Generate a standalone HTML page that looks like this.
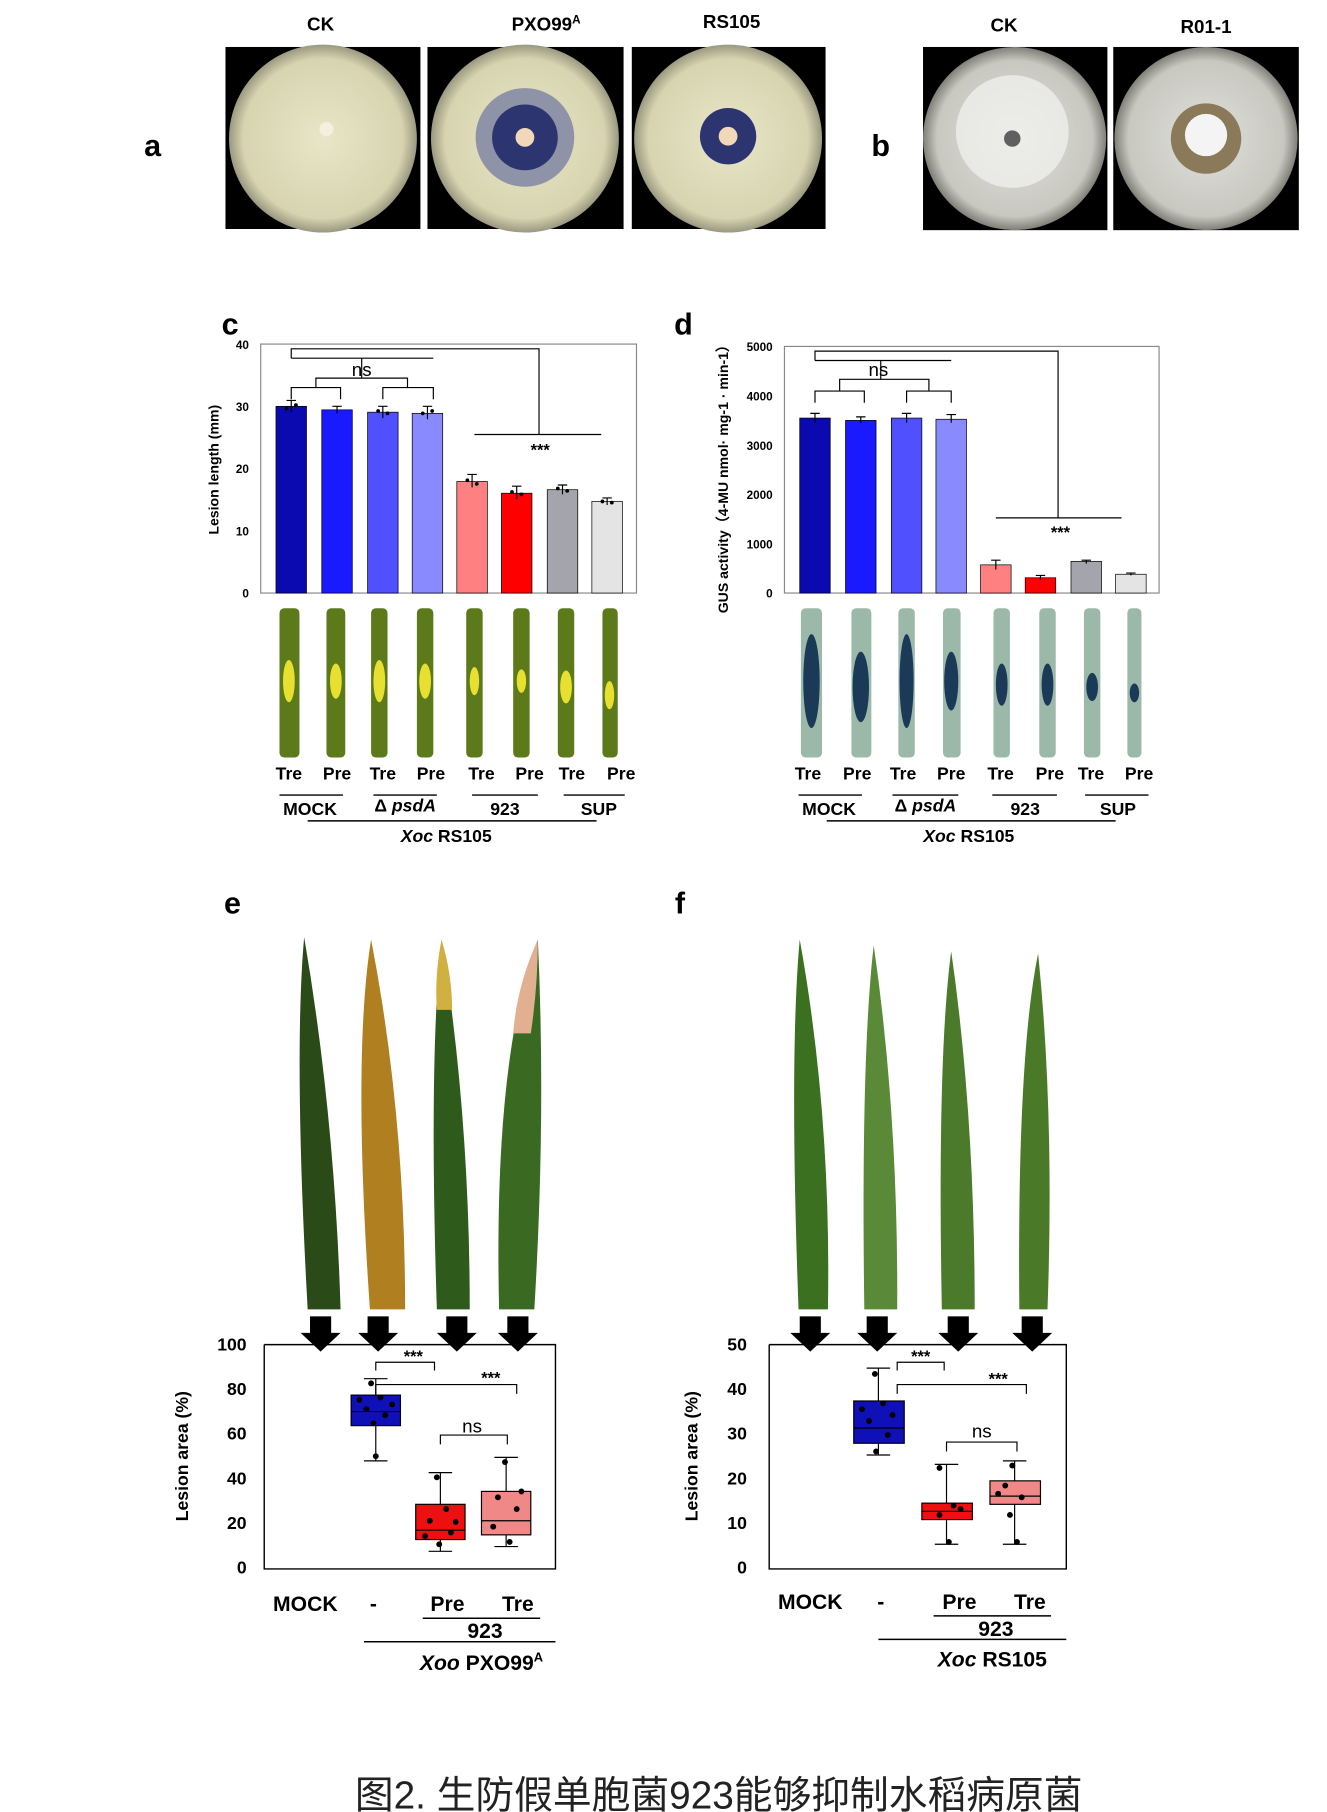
<!DOCTYPE html>
<html><head><meta charset="utf-8"><style>
html,body{margin:0;padding:0;background:#fff;}
svg{display:block;}
text{font-family:"Liberation Sans",Arial,sans-serif;}
</style></head><body>
<svg width="1327" height="1812" viewBox="0 0 1130 1543" preserveAspectRatio="none" xmlns="http://www.w3.org/2000/svg">
<defs>
<radialGradient id="pl" cx="50%" cy="50%" r="50%"><stop offset="0" stop-color="#e8e6c8"/><stop offset="0.85" stop-color="#d8d4b0"/><stop offset="1" stop-color="#9a9880"/></radialGradient>
<radialGradient id="pl2" cx="50%" cy="50%" r="50%"><stop offset="0" stop-color="#e0e0dc"/><stop offset="0.85" stop-color="#c8c8c0"/><stop offset="1" stop-color="#808078"/></radialGradient>
</defs>
<text x="130" y="133" font-size="26" font-weight="bold" text-anchor="middle">a</text>
<text x="750" y="133" font-size="26" font-weight="bold" text-anchor="middle">b</text>
<g font-size="16" font-weight="bold" text-anchor="middle">
<text x="273" y="26">CK</text><text x="465" y="26">PXO99<tspan font-size="10" dy="-6">A</tspan></text><text x="623" y="24">RS105</text>
<text x="855" y="27">CK</text><text x="1027" y="28">R01-1</text></g>
<rect x="192" y="40" width="166" height="155" fill="#000"/>
<circle cx="275" cy="118" r="80" fill="url(#pl)"/><circle cx="278" cy="110" r="6" fill="#f4f0e0"/>
<rect x="364" y="40" width="167" height="155" fill="#000"/>
<circle cx="447" cy="118" r="80" fill="url(#pl)"/><circle cx="447" cy="117" r="42" fill="#8e93a8"/><circle cx="447" cy="117" r="28" fill="#2c3570"/><circle cx="447" cy="117" r="8" fill="#f0d8b8"/>
<rect x="538" y="40" width="165" height="155" fill="#000"/>
<circle cx="620" cy="118" r="80" fill="url(#pl)"/><circle cx="620" cy="116" r="24" fill="#2c3570"/><circle cx="620" cy="116" r="8" fill="#f0d8b8"/>
<rect x="786" y="40" width="157" height="156" fill="#000"/>
<circle cx="864" cy="118" r="78" fill="url(#pl2)"/><circle cx="862" cy="112" r="48" fill="#f0f0ee" opacity="0.75"/><circle cx="862" cy="118" r="7" fill="#606060"/>
<rect x="948" y="40" width="158" height="156" fill="#000"/>
<circle cx="1027" cy="118" r="78" fill="url(#pl2)"/><circle cx="1027" cy="118" r="30" fill="#8a7a5a"/><circle cx="1027" cy="115" r="18" fill="#f4f4f4"/>

<!-- c -->
<text x="196" y="285" font-size="26" font-weight="bold" text-anchor="middle">c</text>
<rect x="222" y="293" width="320" height="212" fill="none" stroke="#888" stroke-width="1"/>
<g font-size="10" font-weight="bold" text-anchor="end">
<text x="212" y="297">40</text><text x="212" y="350">30</text><text x="212" y="403">20</text><text x="212" y="456">10</text><text x="212" y="509">0</text></g>
<text transform="translate(186,400) rotate(-90)" font-size="12" font-weight="bold" text-anchor="middle">Lesion length (mm)</text>
<g stroke="#000" stroke-width="0.6">
<rect x="235" y="346" width="26" height="159" fill="#0a0ab0"/>
<rect x="274" y="349" width="26" height="156" fill="#1a1aff"/>
<rect x="313" y="351" width="26" height="154" fill="#5050ff"/>
<rect x="351" y="352" width="26" height="153" fill="#8a8aff"/>
<rect x="389" y="410" width="26" height="95" fill="#ff8080"/>
<rect x="427" y="420" width="26" height="85" fill="#ff0000"/>
<rect x="466" y="417" width="26" height="88" fill="#a4a4ac"/>
<rect x="504" y="427" width="26" height="78" fill="#e4e4e4"/>
</g>
<g stroke="#000" stroke-width="1" fill="none">
<path d="M248 341V351M244 341H252M287 346V352M283 346H291M326 346V356M322 346H330M364 346V357M360 346H368M402 404V415M398 404H406M440 414V425M436 414H444M479 413V421M475 413H483M517 424V430M513 424H521"/></g>
<g fill="#000"><circle cx="244" cy="348" r="1.6"/><circle cx="252" cy="345" r="1.6"/><circle cx="322" cy="350" r="1.6"/><circle cx="330" cy="352" r="1.6"/><circle cx="398" cy="409" r="1.6"/><circle cx="406" cy="412" r="1.6"/><circle cx="436" cy="419" r="1.6"/><circle cx="444" cy="421" r="1.6"/><circle cx="475" cy="416" r="1.6"/><circle cx="483" cy="418" r="1.6"/><circle cx="513" cy="427" r="1.6"/><circle cx="521" cy="428" r="1.6"/><circle cx="360" cy="352" r="1.6"/><circle cx="368" cy="350" r="1.6"/></g>
<g stroke="#000" fill="none" stroke-width="1">
<path d="M248 305V297H459V370 M248 305H369"/>
<path d="M248 340V330H290V340 M326 340V330H369V340 M269 330V322H347V330 M308 322V305"/>
<path d="M404 370H512"/>
</g>
<text x="308" y="320" font-size="16" text-anchor="middle">ns</text>
<text x="460" y="388" font-size="14" font-weight="bold" text-anchor="middle">***</text>
<g fill="#5c7a1a">
<rect x="238" y="518" width="17" height="127" rx="4"/><rect x="278" y="518" width="16" height="127" rx="4"/>
<rect x="316" y="518" width="14" height="127" rx="4"/><rect x="355" y="518" width="14" height="127" rx="4"/>
<rect x="397" y="518" width="14" height="127" rx="4"/><rect x="437" y="518" width="14" height="127" rx="4"/>
<rect x="475" y="518" width="14" height="127" rx="4"/><rect x="513" y="518" width="13" height="127" rx="4"/></g>
<g fill="#e8e030"><ellipse cx="246" cy="580" rx="5" ry="18"/><ellipse cx="286" cy="580" rx="5" ry="15"/><ellipse cx="323" cy="580" rx="5" ry="18"/><ellipse cx="362" cy="580" rx="5" ry="15"/><ellipse cx="404" cy="580" rx="4" ry="12"/><ellipse cx="444" cy="580" rx="4" ry="10"/><ellipse cx="482" cy="585" rx="5" ry="14"/><ellipse cx="519" cy="592" rx="4" ry="12"/></g>
<g font-size="15" font-weight="bold" text-anchor="middle">
<text x="246" y="664">Tre</text><text x="287" y="664">Pre</text><text x="326" y="664">Tre</text><text x="367" y="664">Pre</text>
<text x="410" y="664">Tre</text><text x="451" y="664">Pre</text><text x="487" y="664">Tre</text><text x="529" y="664">Pre</text>
<text x="264" y="694">MOCK</text><text x="345" y="691">Δ <tspan font-style="italic">psdA</tspan></text><text x="430" y="694">923</text><text x="510" y="694">SUP</text>
<text x="380" y="717"><tspan font-style="italic">Xoc</tspan> RS105</text></g>
<g stroke="#000" stroke-width="1.2"><path d="M238 677H292 M318 677H372 M402 677H458 M480 677H532 M262 699H508"/></g>

<!-- d -->
<text x="582" y="285" font-size="26" font-weight="bold" text-anchor="middle">d</text>
<rect x="668" y="295" width="319" height="210" fill="none" stroke="#888"/>
<g font-size="10" font-weight="bold" text-anchor="end">
<text x="658" y="299">5000</text><text x="658" y="341">4000</text><text x="658" y="383">3000</text><text x="658" y="425">2000</text><text x="658" y="467">1000</text><text x="658" y="509">0</text></g>
<text transform="translate(620,405) rotate(-90)" font-size="12" font-weight="bold" text-anchor="middle">GUS activity（4-MU nmol· mg-1 · min-1）</text>
<g stroke="#000" stroke-width="0.6">
<rect x="681" y="356" width="26" height="149" fill="#0a0ab0"/>
<rect x="720" y="358" width="26" height="147" fill="#1a1aff"/>
<rect x="759" y="356" width="26" height="149" fill="#5050ff"/>
<rect x="797" y="357" width="26" height="148" fill="#8a8aff"/>
<rect x="835" y="481" width="26" height="24" fill="#ff8080"/>
<rect x="873" y="492" width="26" height="13" fill="#ff0000"/>
<rect x="912" y="478" width="26" height="27" fill="#a4a4ac"/>
<rect x="950" y="489" width="26" height="16" fill="#e4e4e4"/></g>
<g stroke="#000" stroke-width="1" fill="none">
<path d="M694 352V360M690 352H698M733 355V360M729 355H737M772 352V360M768 352H776M810 353V360M806 353H814M848 477V485M844 477H852M886 490V494M882 490H890M925 477V480M921 477H929M963 488V490M959 488H967"/></g>
<g stroke="#000" fill="none" stroke-width="1">
<path d="M694 307V299H901V441 M694 307H810"/>
<path d="M694 343V333H736V343 M772 343V333H810V343 M715 333V323H791V333 M750 323V307"/>
<path d="M848 441H955"/></g>
<text x="748" y="320" font-size="16" text-anchor="middle">ns</text>
<text x="903" y="458" font-size="14" font-weight="bold" text-anchor="middle">***</text>
<g fill="#9cb8a8">
<rect x="682" y="518" width="18" height="127" rx="4"/><rect x="725" y="518" width="17" height="127" rx="4"/>
<rect x="765" y="518" width="14" height="127" rx="4"/><rect x="803" y="518" width="15" height="127" rx="4"/>
<rect x="846" y="518" width="14" height="127" rx="4"/><rect x="885" y="518" width="14" height="127" rx="4"/>
<rect x="923" y="518" width="14" height="127" rx="4"/><rect x="960" y="518" width="12" height="127" rx="4"/></g>
<g fill="#1a3a58"><ellipse cx="691" cy="580" rx="7" ry="40"/><ellipse cx="733" cy="585" rx="7" ry="30"/><ellipse cx="772" cy="580" rx="6" ry="40"/><ellipse cx="810" cy="580" rx="6" ry="25"/><ellipse cx="853" cy="583" rx="5" ry="18"/><ellipse cx="892" cy="583" rx="5" ry="18"/><ellipse cx="930" cy="585" rx="5" ry="12"/><ellipse cx="966" cy="590" rx="4" ry="8"/></g>
<g font-size="15" font-weight="bold" text-anchor="middle">
<text x="688" y="664">Tre</text><text x="730" y="664">Pre</text><text x="769" y="664">Tre</text><text x="810" y="664">Pre</text>
<text x="852" y="664">Tre</text><text x="894" y="664">Pre</text><text x="929" y="664">Tre</text><text x="970" y="664">Pre</text>
<text x="706" y="694">MOCK</text><text x="788" y="691">Δ <tspan font-style="italic">psdA</tspan></text><text x="873" y="694">923</text><text x="952" y="694">SUP</text>
<text x="825" y="717"><tspan font-style="italic">Xoc</tspan> RS105</text></g>
<g stroke="#000" stroke-width="1.2"><path d="M680 677H734 M760 677H816 M845 677H900 M924 677H978 M704 699H950"/></g>

<text x="198" y="778" font-size="26" font-weight="bold" text-anchor="middle">e</text>
<text x="579" y="778" font-size="26" font-weight="bold" text-anchor="middle">f</text>
<g>
<path d="M259 798 Q250 900 262 1115 L290 1115 Q285 950 259 798Z" fill="#2a4a18"/>
<path d="M316 800 Q300 900 315 1115 L345 1115 Q345 950 316 800Z" fill="#b08020"/>
<path d="M376 800 Q365 900 372 1115 L400 1115 Q400 950 376 800Z" fill="#2e5a1c"/>
<path d="M376 800 Q370 830 372 860 L385 860 Q385 830 376 800Z" fill="#d0b040"/>
<path d="M458 800 Q420 900 425 1115 L455 1115 Q465 950 458 800Z" fill="#3a6a22"/>
<path d="M458 800 Q440 840 437 880 L452 880 Q458 840 458 800Z" fill="#e0b090"/>
<path d="M681 800 Q672 900 680 1115 L705 1115 Q708 950 681 800Z" fill="#3a7020"/>
<path d="M744 805 Q733 900 736 1115 L764 1115 Q765 950 744 805Z" fill="#5a8a38"/>
<path d="M810 810 Q798 900 802 1115 L830 1115 Q830 950 810 810Z" fill="#4a7a2a"/>
<path d="M884 812 Q866 900 868 1115 L892 1115 Q898 950 884 812Z" fill="#4a7a28"/>
</g>
<g fill="#000">
<path d="M264 1121h18v14h8l-17 16l-17-16h8z"/><path d="M313 1121h18v14h8l-17 16l-17-16h8z"/>
<path d="M380 1121h18v14h8l-17 16l-17-16h8z"/><path d="M432 1121h18v14h8l-17 16l-17-16h8z"/>
<path d="M681 1121h18v14h8l-17 16l-17-16h8z"/><path d="M738 1121h18v14h8l-17 16l-17-16h8z"/>
<path d="M807 1121h18v14h8l-17 16l-17-16h8z"/><path d="M870 1121h18v14h8l-17 16l-17-16h8z"/></g>

<path d="M225 1145V1336H473V1145H225" fill="none" stroke="#000" stroke-width="1.2"/>
<g font-size="15" font-weight="bold" text-anchor="end">
<text x="210" y="1150">100</text><text x="210" y="1188">80</text><text x="210" y="1226">60</text><text x="210" y="1264">40</text><text x="210" y="1302">20</text><text x="210" y="1340">0</text></g>
<text transform="translate(160,1240) rotate(-90)" font-size="15" font-weight="bold" text-anchor="middle">Lesion area (%)</text>
<g stroke="#000" stroke-width="1">
<path d="M320 1174V1244M310 1174H330M310 1244H330"/>
<rect x="299" y="1188" width="42" height="26" fill="#1010b8"/><path d="M299 1202H341"/>
<path d="M375 1254V1321M365 1254H385M365 1321H385"/>
<rect x="354" y="1281" width="42" height="30" fill="#ee1010"/><path d="M354 1303H396"/>
<path d="M431 1241V1317M421 1241H441M421 1317H441"/>
<rect x="410" y="1270" width="42" height="37" fill="#f08888"/><path d="M410 1295H452"/>
<path d="M320 1167V1160H370V1167 M320 1187V1179H440V1187 M375 1230V1222H432V1230" fill="none"/></g>
<g fill="#000">
<circle cx="316" cy="1178" r="2.5"/><circle cx="324" cy="1190" r="2.5"/><circle cx="312" cy="1200" r="2.5"/><circle cx="328" cy="1205" r="2.5"/><circle cx="318" cy="1212" r="2.5"/><circle cx="320" cy="1240" r="2.5"/><circle cx="306" cy="1192" r="2.5"/><circle cx="334" cy="1196" r="2.5"/>
<circle cx="372" cy="1258" r="2.5"/><circle cx="380" cy="1285" r="2.5"/><circle cx="366" cy="1295" r="2.5"/><circle cx="384" cy="1305" r="2.5"/><circle cx="374" cy="1315" r="2.5"/><circle cx="362" cy="1308" r="2.5"/><circle cx="388" cy="1296" r="2.5"/>
<circle cx="430" cy="1245" r="2.5"/><circle cx="424" cy="1275" r="2.5"/><circle cx="440" cy="1285" r="2.5"/><circle cx="420" cy="1300" r="2.5"/><circle cx="434" cy="1313" r="2.5"/><circle cx="444" cy="1270" r="2.5"/></g>
<g font-size="14" font-weight="bold" text-anchor="middle"><text x="352" y="1160">***</text><text x="418" y="1178">***</text></g>
<text x="402" y="1220" font-size="16" text-anchor="middle">ns</text>
<g font-size="18" font-weight="bold" text-anchor="middle">
<text x="260" y="1372">MOCK</text><text x="318" y="1372">-</text><text x="381" y="1372">Pre</text><text x="441" y="1372">Tre</text>
<text x="413" y="1395">923</text><text x="410" y="1422"><tspan font-style="italic">Xoo</tspan> PXO99<tspan font-size="11" dy="-7">A</tspan></text></g>
<g stroke="#000" stroke-width="1.3"><path d="M360 1378H460 M310 1398H473"/></g>

<path d="M655 1145V1336H908V1145H655" fill="none" stroke="#000" stroke-width="1.2"/>
<g font-size="15" font-weight="bold" text-anchor="end">
<text x="636" y="1150">50</text><text x="636" y="1188">40</text><text x="636" y="1226">30</text><text x="636" y="1264">20</text><text x="636" y="1302">10</text><text x="636" y="1340">0</text></g>
<text transform="translate(594,1240) rotate(-90)" font-size="15" font-weight="bold" text-anchor="middle">Lesion area (%)</text>
<g stroke="#000" stroke-width="1">
<path d="M748 1165V1239M738 1165H758M738 1239H758"/>
<rect x="727" y="1193" width="43" height="36" fill="#1010b8"/><path d="M727 1216H770"/>
<path d="M806 1247V1315M796 1247H816M796 1315H816"/>
<rect x="785" y="1280" width="43" height="14" fill="#ee1010"/><path d="M785 1287H828"/>
<path d="M864 1244V1315M854 1244H874M854 1315H874"/>
<rect x="843" y="1261" width="43" height="20" fill="#f08888"/><path d="M843 1274H886"/>
<path d="M764 1167V1160H804V1167 M764 1187V1179H874V1187 M806 1236V1228H866V1236" fill="none"/></g>
<g fill="#000">
<circle cx="745" cy="1170" r="2.5"/><circle cx="752" cy="1195" r="2.5"/><circle cx="740" cy="1210" r="2.5"/><circle cx="756" cy="1222" r="2.5"/><circle cx="746" cy="1236" r="2.5"/><circle cx="734" cy="1200" r="2.5"/><circle cx="760" cy="1205" r="2.5"/>
<circle cx="800" cy="1250" r="2.5"/><circle cx="812" cy="1282" r="2.5"/><circle cx="800" cy="1290" r="2.5"/><circle cx="808" cy="1313" r="2.5"/><circle cx="818" cy="1285" r="2.5"/>
<circle cx="862" cy="1248" r="2.5"/><circle cx="856" cy="1265" r="2.5"/><circle cx="870" cy="1275" r="2.5"/><circle cx="860" cy="1290" r="2.5"/><circle cx="866" cy="1313" r="2.5"/><circle cx="850" cy="1272" r="2.5"/></g>
<g font-size="14" font-weight="bold" text-anchor="middle"><text x="784" y="1160">***</text><text x="850" y="1179">***</text></g>
<text x="836" y="1224" font-size="16" text-anchor="middle">ns</text>
<g font-size="18" font-weight="bold" text-anchor="middle">
<text x="690" y="1370">MOCK</text><text x="750" y="1370">-</text><text x="817" y="1370">Pre</text><text x="877" y="1370">Tre</text>
<text x="848" y="1393">923</text><text x="845" y="1419"><tspan font-style="italic">Xoc</tspan> RS105</text></g>
<g stroke="#000" stroke-width="1.3"><path d="M795 1376H895 M748 1396H908"/></g>

<text x="612" y="1540" font-size="33" text-anchor="middle" font-family="'Liberation Serif','Noto Serif CJK SC',serif" fill="#222">图2. 生防假单胞菌923能够抑制水稻病原菌</text>
</svg>
</body></html>
